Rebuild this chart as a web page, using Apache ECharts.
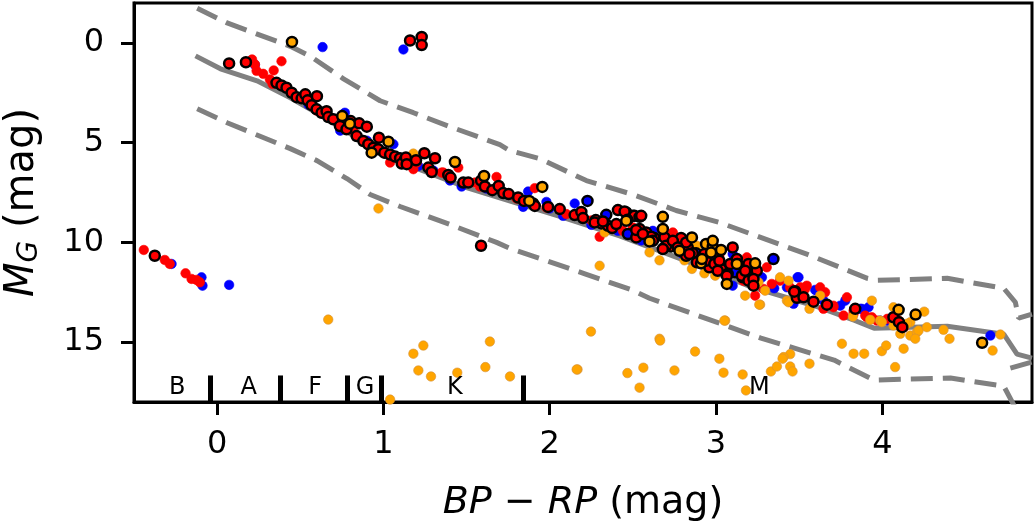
<!DOCTYPE html>
<html>
<head>
<meta charset="utf-8">
<script src="https://cdn.jsdelivr.net/npm/echarts@6.0.0/dist/echarts.min.js"></script>
<style>
  html, body { margin: 0; padding: 0; background: #fff; }
  #chart { width: 1035px; height: 527px; }
</style>
</head>
<body>
<div id="chart"></div>
<script>
// axes
const xTicks = [0, 1, 2, 3, 4];
const yTicks = [0, 5, 10, 15];

// spectral type strip at the bottom
const spectralTypes = ['B', 'A', 'F', 'G', 'K', 'M'];
const spectralLabelX = [-0.24, 0.19, 0.59, 0.89, 1.43, 3.26];
const spectralLabelY = 17.3;
const spectralEdges = [-0.04, 0.377, 0.78, 0.985, 1.84];
const spectralEdgeTop = 16.67;
const spectralEdgeBottom = 18;

// main sequence and its bounds [BP-RP, M_G]
const mainSeq = [[-0.13,0.65],[0.02,1.3],[0.24,1.9],[0.44,2.75],[0.7,4.0],[1.0,5.65],[1.5,7.25],[2.06,8.7],[2.42,9.67],
  [2.78,10.8],[3.2,12.2],[3.6,13.2],[3.83,13.9],[3.95,14.3],[4.39,14.2],[4.73,14.6],[4.81,15.6],[4.9,15.8]];
const upperBound = [[-0.12,-1.74],[0.06,-1.0],[0.44,0.17],[0.56,0.67],[0.76,1.8],[0.88,2.4],[0.98,2.9],[1.18,3.5],[1.4,4.2],
  [1.7,5.1],[1.76,5.4],[1.94,5.8],[2.22,6.9],[2.5,7.6],[2.76,8.4],[3.02,9.0],[3.55,10.6],[3.91,11.8],[3.97,11.9],
  [4.39,11.8],[4.73,12.3],[4.8,13.0],[4.82,13.8],[4.9,13.6]];
const lowerBound = [[-0.12,3.3],[0.06,4.0],[0.44,5.3],[0.6,5.9],[0.78,6.8],[0.92,7.6],[1.1,8.2],[1.4,9.1],[1.68,10.0],
  [1.76,10.3],[1.94,10.8],[2.22,11.6],[2.5,12.4],[2.6,12.8],[3.07,14.2],[3.27,14.8],[3.71,15.9],[3.95,16.9],[4.41,16.8],
  [4.73,17.2],[4.8,18.3]];
const lowerTail = [[4.77,16.3],[4.9,16.0]];

// stars
const bluePts = [[-0.274,11.08],[-0.094,11.75],[-0.088,12.17],[0.072,12.13],[0.227,1.1],[0.634,0.21],[1.12,0.33],
  [0.70,3.8],[0.768,3.5],[0.74,4.4],[1.06,5.08],[1.21,6.17],[1.40,6.9],[1.47,7.2],[1.196,6.17],[1.87,7.45],[1.98,7.97],
  [2.15,8.05],[1.84,8.22],[2.08,8.67],[2.25,9.12],[2.41,9.42],[2.47,9.58],[2.62,9.42],[2.74,10.08],[3.1,10.58],[2.98,10.75],
  [3.1,12.17],[2.62,9.5],[2.885,10.5],[3.105,11.25],[3.276,11.75],[3.426,12.25],[3.496,11.75],[3.606,12.42],[3.646,12.92],
  [3.867,13.33],[3.917,13.25],[4.03,13.92],[3.466,13.08],[3.49,11.75],[3.596,12.38],[3.747,13.17],[3.777,12.92],[3.877,13.33],
  [3.987,13.92],[4.65,14.67],[0.55,3.1],[0.9,4.9],[1.3,6.4],[1.62,7.3],[1.75,7.6],[2.0,8.3],[2.2,8.8],[2.55,9.9],[2.8,10.6],
  [3.0,11.2],[3.2,11.9],[3.35,12.3]];
const redPts = [[-0.441,10.38],[-0.315,10.88],[-0.285,11.08],[-0.19,11.55],[-0.154,11.83],[-0.124,11.88],[-0.104,12.0],
  [0.21,0.83],[0.227,1.08],[0.237,1.4],[0.277,1.55],[0.387,0.92],[0.34,1.38],[0.317,1.83],[0.333,2.05],[1.45,6.25],[1.04,6.0],
  [1.18,6.33],[1.35,6.5],[1.68,6.72],[1.91,7.28],[2.3,9.72],[2.4,9.17],[1.58,7.2],[1.36,6.5],[1.98,8.25],[2.10,8.58],[2.5,9.25],
  [2.74,9.5],[3.185,10.75],[2.82,10.25],[3.305,11.25],[3.385,11.92],[3.445,12.25],[3.546,12.17],[3.626,12.25],[3.787,12.75],
  [3.706,13.25],[3.827,13.58],[3.907,13.75],[4.03,13.83],[4.13,14.25],[3.235,12.67],[3.285,12.33],[2.74,9.58],[3.02,10.67],
  [3.165,11.92],[3.506,12.25],[3.335,12.08],[2.44,9.42],[3.536,12.33],[3.656,12.5],[3.706,13.17],[3.767,13.67],[3.897,13.67],
  [3.937,13.75],[3.967,13.92],[4.067,13.83],[4.098,13.92],[4.128,14.22],[3.646,13.33],[3.827,13.42],[0.6,3.4],[0.82,4.4],
  [1.2,6.0],[1.55,7.0],[1.8,7.8],[2.25,8.9],[2.6,9.7],[2.9,10.9],[3.05,11.5]];
const orangePts = [[1.18,5.55],[2.33,9.5],[2.3,11.17],[2.6,10.5],[2.66,10.9],[2.81,10.9],[2.855,11.33],[2.93,11.55],[2.995,11.67],
  [2.885,10.17],[3.175,12.67],[3.265,13.12],[3.295,12.42],[3.245,11.42],[3.385,11.75],[3.436,11.92],[3.426,12.92],[3.562,13.33],
  [3.626,12.67],[3.937,12.92],[3.987,13.92],[4.067,14.17],[4.108,14.58],[4.168,14.67],[4.208,14.5],[3.055,13.92],[2.66,14.83],
  [3.255,12.0],[3.436,13.0],[3.823,13.72],[3.927,13.88],[3.997,14.0],[4.067,13.25],[4.168,14.0],[4.218,14.42],[4.252,13.47],
  [4.268,14.25],[4.198,14.83],[4.368,14.38],[4.404,14.83],[4.71,14.62],[4.663,15.42],[3.757,15.08],[3.827,15.58],[3.891,15.58],
  [3.997,15.45],[4.023,15.17],[4.128,15.33],[4.077,16.25],[3.562,16.08],[3.446,15.6],[3.406,15.75],[2.248,14.47],[2.167,16.37],
  [2.467,16.55],[2.563,16.28],[2.54,17.28],[2.664,14.92],[2.75,16.42],[2.874,15.47],[3.02,15.83],[3.045,16.53],[3.05,13.92],
  [3.16,16.62],[3.18,17.42],[3.26,13.12],[3.33,16.47],[3.366,16.22],[3.4,15.83],[3.446,16.22],[3.46,16.47],[4.148,14.08],
  [0.668,13.87],[1.18,15.58],[1.24,15.17],[1.21,16.42],[1.286,16.72],[1.444,16.53],[1.64,14.97],[1.613,16.25],[1.761,16.72],
  [2.162,16.37],[1.04,17.88],[0.97,8.3]];
const ringBluePts = [[2.227,7.92],[2.34,8.62],[2.5,8.67],[2.47,9.58],[2.88,10.55],[3.115,11.5],[3.345,10.83]];
const ringRedPts = [[-0.375,10.67],[0.072,1.03],[0.173,0.97],[1.16,-0.12],[1.23,-0.3],[1.23,0.11],[0.357,2.0],[0.387,2.13],
  [0.417,2.25],[0.448,2.5],[0.478,2.72],[0.508,2.78],[0.53,2.58],[0.544,2.88],[0.60,2.67],[0.568,3.12],[0.598,3.33],[0.628,3.5],
  [0.658,3.42],[0.668,3.72],[0.698,3.83],[0.738,4.17],[0.778,4.33],[0.803,3.92],[0.854,4.03],[0.9,4.2],[0.839,4.67],[0.879,4.92],
  [0.909,5.08],[0.94,5.25],[0.973,4.75],[0.969,5.33],[1.005,5.5],[1.04,5.6],[1.07,5.7],[1.1,5.78],[1.13,5.83],[1.196,5.88],
  [1.246,5.53],[1.31,5.78],[1.11,6.05],[1.27,6.25],[1.29,6.47],[1.39,6.62],[1.48,7.0],[1.51,7.0],[1.135,5.75],[1.14,6.08],
  [1.404,6.75],[1.587,6.9],[1.61,7.2],[1.655,7.38],[1.693,7.17],[1.72,7.53],[1.753,7.58],[1.81,7.75],[1.845,7.92],[1.9,8.05],
  [1.91,8.17],[1.99,8.22],[2.06,8.33],[2.15,8.63],[2.19,8.47],[2.2,8.78],[2.277,8.88],[2.31,9.05],[2.35,9.17],[2.375,9.28],
  [2.41,8.38],[2.46,8.5],[2.51,8.67],[2.54,9.33],[2.52,9.75],[2.58,9.5],[2.63,9.78],[2.69,10.25],[2.73,10.2],[2.79,9.78],
  [2.83,10.25],[2.86,10.55],[2.93,10.9],[2.96,11.25],[3.03,11.33],[3.07,11.58],[3.1,10.25],[3.16,11.75],[3.185,11.5],
  [1.587,10.17],[2.45,8.45],[2.54,8.72],[2.27,9.0],[2.32,8.95],[2.40,9.08],[2.52,9.38],[2.61,9.72],[2.69,9.75],[2.70,10.17],
  [2.74,9.92],[2.82,10.0],[2.885,11.0],[2.94,10.92],[2.99,11.08],[3.065,11.67],[3.155,11.67],[3.215,11.75],[3.195,11.92],
  [3.245,11.42],[2.93,10.58],[2.82,10.67],[2.55,8.67],[2.56,9.58],[2.62,9.92],[2.68,10.33],[2.77,10.25],[2.84,10.58],[3.02,10.92],
  [3.085,11.08],[3.125,10.83],[3.195,11.08],[3.01,11.42],[3.175,11.42],[3.225,11.83],[3.225,12.17],[3.475,12.45],[3.486,12.78],
  [3.526,12.75],[3.667,13.12],[3.837,13.33],[4.067,13.75],[4.1,14.0],[4.12,14.25],[3.47,12.47],[3.586,12.97]];
const ringOrangePts = [[0.45,-0.05],[0.752,3.67],[0.798,4.05],[1.03,4.95],[0.929,5.5],[1.43,5.97],[1.605,6.67],[1.955,7.22],
  [1.877,7.92],[2.467,8.87],[2.68,8.72],[2.68,9.33],[2.855,9.75],[2.94,10.08],[2.98,10.2],[3.03,10.38],[2.91,11.05],[3.13,11.08],
  [3.065,12.08],[2.6,9.95],[2.78,10.42],[2.97,10.5],[3.235,11.05],[2.98,9.92],[2.46,8.92],[2.915,10.83],[3.125,11.08],
  [4.098,13.38],[4.2,13.62],[4.6,15.03]];

const font = 'DejaVu Sans';
const chart = echarts.init(document.getElementById('chart'), null, { renderer: 'canvas' });

function boundLine(data, dashed) {
  return {
    type: 'line', data: data, symbol: 'none', silent: true, z: 1,
    lineStyle: { color: '#808080', width: 5, type: dashed ? [22, 10] : 'solid', cap: 'butt' }
  };
}
function dots(data, color, ring) {
  return {
    type: 'scatter', data: data, symbolSize: ring ? 10 : 9.5, silent: true, z: ring ? 4 : 3,
    itemStyle: ring
      ? { color: color, borderColor: '#000', borderWidth: 2.5, opacity: 1 }
      : { color: color, borderColor: color === '#ffa500' ? '#d4903a' : color, borderWidth: 0.6, opacity: 1 }
  };
}

const option = {
  animation: false,
  backgroundColor: '#fff',
  grid: { left: 134, right: 3, top: 3, bottom: 125, show: true, borderColor: '#000', borderWidth: 3,
    containLabel: false, outerBoundsMode: 'none' },
  xAxis: {
    type: 'value', min: -0.5, max: 4.9,
    name: '{i|BP}{n| − }{i|RP}{n| (mag)}', nameLocation: 'middle', nameGap: 82,
    nameTextStyle: { rich: {
      i: { fontFamily: font, fontSize: 38, fontStyle: 'italic', color: '#000' },
      n: { fontFamily: font, fontSize: 38, color: '#000' } } },
    axisLine: { onZero: false, lineStyle: { color: '#000', width: 3 } },
    axisTick: { customValues: xTicks, length: 13, lineStyle: { color: '#000', width: 3 } },
    axisLabel: { customValues: xTicks, fontFamily: font, fontSize: 32, color: '#000', margin: 27 },
    splitLine: { show: false }
  },
  yAxis: {
    type: 'value', min: -2, max: 18, inverse: true,
    name: '{i|M}{s|G}{n| (mag)}', nameLocation: 'middle', nameGap: 90,
    nameTextStyle: { rich: {
      i: { fontFamily: font, fontSize: 40, fontStyle: 'italic', color: '#000' },
      s: { fontFamily: font, fontSize: 28, fontStyle: 'italic', color: '#000', verticalAlign: 'bottom', padding: [14, 0, 0, 0] },
      n: { fontFamily: font, fontSize: 40, color: '#000' } } },
    axisLine: { onZero: false, lineStyle: { color: '#000', width: 3 } },
    axisTick: { customValues: yTicks, length: 13, lineStyle: { color: '#000', width: 3 } },
    axisLabel: { customValues: yTicks, fontFamily: font, fontSize: 32, color: '#000', margin: 30 },
    splitLine: { show: false }
  },
  series: [
    boundLine(mainSeq, false),
    boundLine(upperBound, true),
    boundLine(lowerBound, true),
    boundLine(lowerTail, true),
    dots(bluePts, '#0000ff', false),
    dots(redPts, '#ff0000', false),
    dots(orangePts, '#ffa500', false),
    dots(ringBluePts, '#0000ff', true),
    dots(ringRedPts, '#ff0000', true),
    dots(ringOrangePts, '#ffa500', true),
    {
      type: 'scatter', silent: true, z: 5, symbolSize: 1,
      itemStyle: { color: 'rgba(255,255,255,0)', opacity: 1 },
      data: spectralTypes.map((t, i) => [spectralLabelX[i], spectralLabelY, t]),
      label: { show: true, position: 'inside', formatter: p => p.data[2], fontFamily: font, fontSize: 24,
        color: '#000', textBorderWidth: 0 },
      markLine: {
        silent: true, symbol: ['none', 'none'], label: { show: false },
        lineStyle: { color: '#000', width: 5, type: 'solid' },
        data: spectralEdges.map(x => [{ coord: [x, spectralEdgeTop] }, { coord: [x, spectralEdgeBottom] }])
      }
    }
  ]
};
chart.setOption(option);
</script>
</body>
</html>
